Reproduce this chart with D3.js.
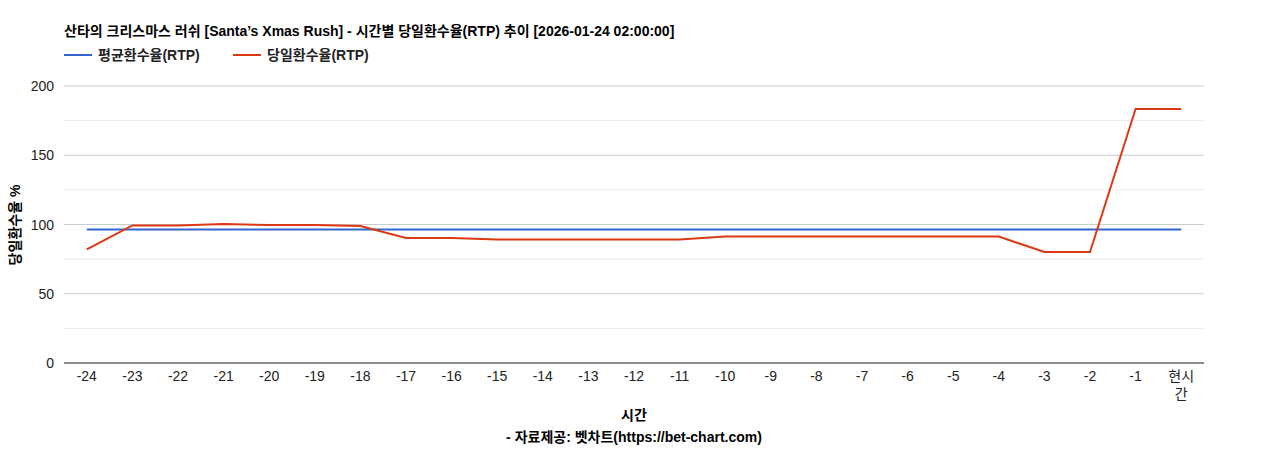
<!DOCTYPE html>
<html><head><meta charset="utf-8">
<script src="https://cdn.jsdelivr.net/npm/d3@7"></script>
<style>body{margin:0;background:#fff;font-family:"Liberation Sans","Noto Sans CJK KR",sans-serif}</style>
</head><body><div id="chart"></div>
<script>
const categories = ["-24","-23","-22","-21","-20","-19","-18","-17","-16","-15","-14","-13","-12","-11","-10","-9","-8","-7","-6","-5","-4","-3","-2","-1","현시간"];
const avgRtp = Array(25).fill(96.4);
const dayRtp = [82,99.3,99.3,100.4,99.6,99.6,98.9,90.3,90.3,89.2,89.2,89.2,89.2,89.2,91.3,91.3,91.3,91.3,91.3,91.3,91.3,80.1,80.1,183.4,183.4];
const yTicks = [0,50,100,150,200];

const width = 1268, height = 450, margin = {top: 86, right: 64, bottom: 87, left: 64};
const svg = d3.select("#chart").append("svg").attr("width", width).attr("height", height)
    .style("font-family", "'Liberation Sans','Noto Sans CJK KR',sans-serif");

const x = d3.scaleBand().domain(categories).range([margin.left, width - margin.right]);
const y = d3.scaleLinear().domain([0, 200]).range([height - margin.bottom, margin.top]);

// gridlines (major + minor)
d3.range(0, 201, 25).forEach(v => {
    svg.append("line").attr("x1", margin.left).attr("x2", width - margin.right)
        .attr("y1", y(v)).attr("y2", y(v))
        .attr("stroke", v % 50 === 0 ? "#ccc" : "#ebebeb").attr("stroke-width", 1);
});
svg.append("line").attr("x1", margin.left).attr("x2", width - margin.right)
    .attr("y1", y(0)).attr("y2", y(0)).attr("stroke", "#333");

yTicks.forEach(v => {
    svg.append("text").attr("x", margin.left - 10).attr("y", y(v) + 5).attr("text-anchor", "end")
        .attr("font-size", 14).attr("fill", "#222").text(v);
});

categories.forEach(c => {
    const cx = x(c) + x.bandwidth() / 2;
    if (c === "현시간") {
        svg.append("text").attr("x", cx).attr("y", 381).attr("text-anchor", "middle").attr("font-size", 14).attr("fill", "#222").text("현시");
        svg.append("text").attr("x", cx).attr("y", 399).attr("text-anchor", "middle").attr("font-size", 14).attr("fill", "#222").text("간");
    } else {
        svg.append("text").attr("x", cx).attr("y", 381).attr("text-anchor", "middle").attr("font-size", 14).attr("fill", "#222").text(c);
    }
});

const line = d3.line().x((d, i) => x(categories[i]) + x.bandwidth() / 2).y(d => y(d));
svg.append("path").datum(avgRtp).attr("fill", "none").attr("stroke", "#3366cc").attr("stroke-width", 2).attr("d", line);
svg.append("path").datum(dayRtp).attr("fill", "none").attr("stroke", "#dc3912").attr("stroke-width", 2).attr("d", line);

// title
svg.append("text").attr("x", 64).attr("y", 36).attr("font-size", 14).attr("font-weight", "bold").attr("fill", "#000")
    .text("산타의 크리스마스 러쉬 [Santa’s Xmas Rush] - 시간별 당일환수율(RTP) 추이 [2026-01-24 02:00:00]");

// legend
const legend = [["평균환수율(RTP)", "#3366cc", 64], ["당일환수율(RTP)", "#dc3912", 233]];
legend.forEach(([t, c, lx]) => {
    svg.append("line").attr("x1", lx).attr("x2", lx + 28).attr("y1", 55).attr("y2", 55).attr("stroke", c).attr("stroke-width", 2);
    svg.append("text").attr("x", lx + 34).attr("y", 60).attr("font-size", 14).attr("font-weight", "bold").attr("fill", "#222").text(t);
});

// axis titles
svg.append("text").attr("x", 634).attr("y", 420).attr("text-anchor", "middle").attr("font-size", 14).attr("font-weight", "bold").text("시간");
svg.append("text").attr("x", 634).attr("y", 442).attr("text-anchor", "middle").attr("font-size", 14).attr("font-weight", "bold").text("- 자료제공: 벳차트(https://bet-chart.com)");
svg.append("text").attr("transform", "translate(20,225) rotate(-90)").attr("text-anchor", "middle")
    .attr("font-size", 14).attr("font-weight", "bold").text("당일환수율 %");
</script></body></html>
